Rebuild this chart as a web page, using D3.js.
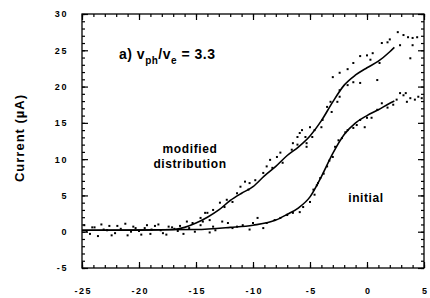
<!DOCTYPE html>
<html>
<head>
<meta charset="utf-8">
<script src="https://cdn.jsdelivr.net/npm/d3@7"></script>
<style>
  body { margin: 0; background: #fff; }
  svg { display: block; }
  .tick text { font-family: "Liberation Sans", Arial, sans-serif; font-weight: bold; font-size: 9px; letter-spacing: 1.6px; fill: #000; }
  .tick line, .domain { stroke: #000; }
  .lbl { font-family: "Liberation Sans", Arial, sans-serif; font-weight: bold; fill: #000; }
</style>
</head>
<body>
<svg id="chart" width="430" height="298"></svg>
<script>
//
// Current vs. voltage: initial and modified distribution
//

const X_TICKS = [-25, -20, -15, -10, -5, 0, 5];
const Y_TICKS = [-5, 0, 5, 10, 15, 20, 25, 30];

// fitted curves (voltage, current in uA)
const modifiedFitX = [-25, -20, -17, -16, -15, -14, -13, -12, -11, -10, -9, -8, -7, -6, -5, -4, -3, -2, -1, 0, 1, 2, 2.4];
const modifiedFitY = [0.2, 0.2, 0.3, 0.6, 1.2, 2.0, 3.0, 4.3, 5.3, 6.2, 7.7, 9.0, 10.5, 11.7, 13.2, 15.3, 17.9, 20.2, 21.6, 22.6, 23.5, 24.8, 25.4];
const initialFitX = [-25, -15, -12, -10, -8, -7, -6, -5, -4, -3, -2, -1, 0, 1, 2, 2.4];
const initialFitY = [0.2, 0.3, 0.6, 0.9, 1.6, 2.4, 3.3, 4.8, 7.6, 10.8, 13.4, 15.0, 16.0, 16.8, 17.7, 18.0];

// measured points
const modifiedPtsX = [-24.8, -24.3, -23.9, -23.3, -22.8, -22.4, -21.9, -21.2, -20.7, -20.3, -19.8, -19.3, -18.9, -18.3, -17.9, -17.4, -16.9,
  -16.4, -15.8, -15.3, -14.6, -14.2, -13.8, -14.4, -14.0, -13.5, -13.3, -12.9, -12.5, -12.3, -11.8, -11.4, -11.1, -10.7, -10.4, -10.3, -9.8, -9.1,
  -8.8, -8.5, -8.3, -7.9, -7.6, -7.4, -6.6, -6.5, -6.1, -6.1, -5.9, -5.7, -5.4, -5.3, -5.3, -5.0, -4.8, -4.6, -4.0, -3.9,
  -3.5, -3.2, -3.1, -2.6, -2.4, -2.4, -3.0, -2.4, -1.7, -1.7, -1.2, -1.2, -0.6, -0.6, 0, 0.3, 0.5, 0.9, 1.1, 1.3, 1.8, 2.0,
  2.7, 2.9, 3.2, 3.6, 3.8, 4.0, 4.0, 4.4];
const modifiedPtsY = [0.9, -0.3, 0.6, 1.0, 0.2, -0.5, 0.8, 1.1, 0.0, 0.5, -0.4, 0.9, 0.3, 1.0, -0.2, 0.7, 0.4,
  0.8, 1.4, 1.2, 1.9, 2.6, 1.6, 1.4, 2.6, 3.0, 0.2, 4.0, 3.4, 4.4, 4.1, 5.3, 6.2, 6.9, 5.8, 6.7, 7.1, 8.1,
  9.0, 9.9, 8.8, 10.3, 10.9, 9.5, 11.3, 12.2, 13.05, 12.0, 13.6, 14.0, 13.05, 11.7, 12.2, 14.4, 13.05, 14.0, 14.4, 15.4,
  17.2, 17.9, 16.5, 17.9, 18.6, 19.5, 21.3, 21.9, 22.4, 20.2, 23.25, 20.6, 24.2, 20.5, 24.3, 23.7, 24.6, 20.9, 23.25, 26.0, 26.1, 26.5,
  27.5, 25.7, 27.1, 26.8, 23.9, 26.7, 25.7, 26.8];

const initialPtsX = [-24.6, -24.1, -23.6, -23.1, -22.6, -22.1, -21.6, -21.0, -20.5, -20.0, -19.5, -19.0, -18.6, -18.1, -17.6, -17.1, -16.6, -16.1,
  -15.6, -15.1, -14.6, -13.8, -13.5, -12.7, -12.2, -11.8, -11.4, -10.9, -10.3, -10.0, -9.6, -9.1, -8.8, -8.1, -7.6, -7.0, -6.5,
  -5.9, -5.6, -5.0, -4.7, -4.6, -4.4, -4.3, -4.1, -3.8, -3.5, -3.3, -3.0, -2.8, -2.5, -2.2, -1.9, -1.7, -1.2, -0.9, -0.6, -0.2,
  0, 0.4, 0.9, 1.3, 1.8, 2.3, 2.6, 2.9, 3.2, 3.4, 3.5, 3.8, 4.2, 4.5, 4.8];
const initialPtsY = [0.1, 0.6, -0.6, 0.3, 0.8, -0.2, 0.4, -0.5, 0.7, 0.1, 0.5, -0.3, 0.8, 0.2, -0.4, 0.6, 0.1, -0.3,
  0.5, 0.0, 0.9, -0.1, 0.7, 1.4, 1.2, 0.5, 0.7, 0.9, 0.3, 1.2, 1.9, 0.5, 1.2, 1.6, 1.9, 2.3, 2.6,
  2.7, 3.4, 4.1, 5.8, 5.1, 6.4, 6.7, 7.4, 8.0, 9.0, 9.8, 10.3, 11.7, 12.6, 12.9, 13.7, 14.0, 14.3, 14.7, 15.4, 14.4,
  15.7, 15.7, 16.8, 17.7, 17.1, 17.5, 18.2, 19.1, 18.8, 19.1, 17.9, 18.4, 18.2, 18.6, 18.4];

const LEFT = 82, RIGHT = 424, TOP = 14, BOTTOM = 268;

const svg = d3.select("#chart");
const xScale = d3.scaleLinear().domain([-25, 5]).range([LEFT, RIGHT]);
const yScale = d3.scaleLinear().domain([-5, 30]).range([BOTTOM, TOP]);

drawAxes();
drawSeries(modifiedFitX, modifiedFitY, modifiedPtsX, modifiedPtsY);
drawSeries(initialFitX, initialFitY, initialPtsX, initialPtsY);
drawLabels();

function drawAxes() {
  const minorX = d3.range(-25, 6, 1);
  const minorY = d3.range(-5, 31, 1);

  // frame
  svg.append("rect")
    .attr("x", LEFT).attr("y", TOP)
    .attr("width", RIGHT - LEFT).attr("height", BOTTOM - TOP)
    .attr("fill", "none").attr("stroke", "#000").attr("stroke-width", 1.3);

  // minor ticks, all four sides, pointing in
  const minor = [
    [d3.axisBottom(xScale).tickValues(minorX), `translate(0,${BOTTOM})`],
    [d3.axisTop(xScale).tickValues(minorX), `translate(0,${TOP})`],
    [d3.axisLeft(yScale).tickValues(minorY), `translate(${LEFT},0)`],
    [d3.axisRight(yScale).tickValues(minorY), `translate(${RIGHT},0)`]
  ];
  minor.forEach(([ax, tr]) => {
    const g = svg.append("g").attr("transform", tr)
      .call(ax.tickSize(-3).tickFormat(""));
    g.select(".domain").remove();
  });

  // major ticks with labels
  const xAxis = svg.append("g")
    .attr("transform", `translate(0,${BOTTOM})`)
    .call(d3.axisBottom(xScale).tickValues(X_TICKS).tickSize(-6).tickPadding(20).tickFormat(d => String(d)));
  xAxis.select(".domain").remove();
  xAxis.selectAll("text").attr("dx", "0.8px");

  const yAxis = svg.append("g")
    .attr("transform", `translate(${LEFT},0)`)
    .call(d3.axisLeft(yScale).tickValues(Y_TICKS).tickSize(-6).tickPadding(14).tickFormat(d => String(d)));
  yAxis.select(".domain").remove();

  const top = svg.append("g").attr("transform", `translate(0,${TOP})`)
    .call(d3.axisTop(xScale).tickValues(X_TICKS).tickSize(-6).tickFormat(""));
  top.select(".domain").remove();
  const right = svg.append("g").attr("transform", `translate(${RIGHT},0)`)
    .call(d3.axisRight(yScale).tickValues(Y_TICKS).tickSize(-6).tickFormat(""));
  right.select(".domain").remove();

  svg.selectAll(".tick line").attr("stroke-width", 1.2);
}

function drawSeries(fx, fy, px, py) {
  const line = d3.line()
    .x(i => xScale(fx[i]))
    .y(i => yScale(fy[i]))
    .curve(d3.curveMonotoneX);
  svg.append("path")
    .attr("d", line(d3.range(fx.length)))
    .attr("fill", "none")
    .attr("stroke", "#000")
    .attr("stroke-width", 1.6);

  svg.append("g")
    .selectAll("rect")
    .data(d3.range(px.length))
    .join("rect")
    .attr("x", i => xScale(px[i]) - 1)
    .attr("y", i => yScale(py[i]) - 1)
    .attr("width", 2)
    .attr("height", 2)
    .attr("fill", "#000");
}

function drawLabels() {
  svg.append("text")
    .attr("class", "lbl")
    .attr("transform", `translate(24,138) rotate(-90)`)
    .attr("text-anchor", "middle")
    .style("font-size", "13px")
    .style("letter-spacing", "1px")
    .text("Current (µA)");

  const ann = svg.append("text")
    .attr("class", "lbl")
    .attr("x", 119).attr("y", 59)
    .style("font-size", "14px")
    .style("letter-spacing", "0.5px");
  ann.append("tspan").text("a)  v");
  ann.append("tspan").attr("dy", 5).style("font-size", "10px").text("ph");
  ann.append("tspan").attr("dy", -5).text("/v");
  ann.append("tspan").attr("dy", 5).style("font-size", "10px").text("e");
  ann.append("tspan").attr("dy", -5).text(" = 3.3");

  svg.append("text").attr("class", "lbl")
    .attr("x", 190).attr("y", 153).attr("text-anchor", "middle")
    .style("font-size", "12px").style("letter-spacing", "0.6px")
    .text("modified");
  svg.append("text").attr("class", "lbl")
    .attr("x", 190).attr("y", 168).attr("text-anchor", "middle")
    .style("font-size", "12px").style("letter-spacing", "0.6px")
    .text("distribution");
  svg.append("text").attr("class", "lbl")
    .attr("x", 366).attr("y", 202).attr("text-anchor", "middle")
    .style("font-size", "12px").style("letter-spacing", "0.6px")
    .text("initial");
}
</script>
</body>
</html>
